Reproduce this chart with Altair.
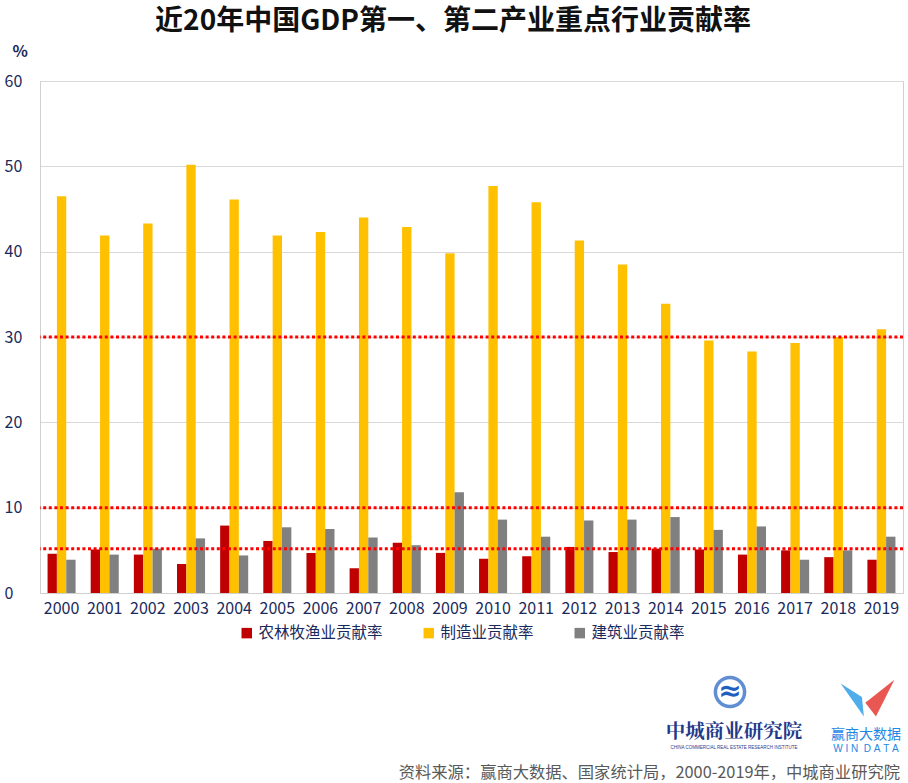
import altair as alt
import pandas as pd

years = [str(y) for y in range(2000, 2020)]
series_names = ["农林牧渔业贡献率", "制造业贡献率", "建筑业贡献率"]
agri = [4.6, 5.1, 4.5, 3.4, 7.9, 6.1, 4.7, 2.9, 5.9, 4.7,
        4.0, 4.3, 5.4, 4.8, 5.2, 5.1, 4.5, 5.0, 4.2, 3.9]
manu = [46.5, 41.9, 43.3, 50.2, 46.1, 41.9, 42.3, 44.0, 42.9, 39.8,
        47.7, 45.8, 41.3, 38.5, 33.9, 29.6, 28.3, 29.3, 30.0, 30.9]
cons = [3.9, 4.5, 5.2, 6.4, 4.4, 7.7, 7.5, 6.5, 5.6, 11.8,
        8.6, 6.6, 8.5, 8.6, 8.9, 7.4, 7.8, 3.9, 5.0, 6.6]
ref_lines = [30, 10, 5.2]
colors = ["#C00000", "#FFC000", "#808080"]

title_text = "近20年中国GDP第一、第二产业重点行业贡献率"
source_text = "资料来源：赢商大数据、国家统计局，2000-2019年，中城商业研究院"

rows = []
for name, vals in zip(series_names, [agri, manu, cons]):
    for y, v in zip(years, vals):
        rows.append({"year": y, "series": name, "value": v})
df = pd.DataFrame(rows)

FONT = "Noto Sans CJK SC"
NAVY = "#1B2A5C"

W, H = 863, 512

bars = alt.Chart(df).mark_bar().encode(
    x=alt.X("year:N", sort=years,
            scale=alt.Scale(paddingInner=0.35, paddingOuter=0.175),
            axis=alt.Axis(title=None, labelAngle=0, labelFontSize=16,
                          labelColor=NAVY, labelFont=FONT, labelPadding=7,
                          tickSize=0, domainColor="#D0D0D0")),
    xOffset=alt.XOffset("series:N", sort=series_names),
    y=alt.Y("value:Q", scale=alt.Scale(domain=[0, 60]),
            axis=alt.Axis(values=[0, 10, 20, 30, 40, 50, 60], title="%",
                          titleAngle=0, titleX=-28, titleY=-22, titleAlign="left",
                          titleFontSize=16, titleFont=FONT, titleColor=NAVY,
                          titleFontWeight="bold",
                          labelFontSize=16, labelColor=NAVY, labelFont=FONT,
                          labelAlign="left", labelPadding=36,
                          tickSize=0, gridColor="#D9D9D9", domainColor="#D0D0D0")),
    color=alt.Color("series:N", sort=series_names,
                    scale=alt.Scale(domain=series_names, range=colors),
                    legend=alt.Legend(title=None, orient="none", direction="horizontal",
                                      legendX=199, legendY=544, symbolType="square",
                                      symbolSize=110, symbolStrokeWidth=0,
                                      labelFontSize=15.5, labelFont=FONT,
                                      labelColor=NAVY, columnPadding=38,
                                      labelOffset=4)),
)

rules = alt.Chart(pd.DataFrame({"v": ref_lines})).mark_rule(
    color="#FF0000", strokeWidth=3, strokeDash=[3, 2.6]
).encode(y="v:Q")

title = alt.Chart(pd.DataFrame({"t": [title_text]})).mark_text(
    font=FONT, fontSize=28, fontWeight="bold", color="#111111", align="center",
    baseline="middle"
).encode(x=alt.value(413), y=alt.value(-59), text="t:N")

source = alt.Chart(pd.DataFrame({"t": [source_text]})).mark_text(
    font=FONT, fontSize=16.3, color="#595959", align="right", baseline="middle"
).encode(x=alt.value(860), y=alt.value(692), text="t:N")

logo1 = alt.Chart(pd.DataFrame({"t": ["中城商业研究院"]})).mark_text(
    font="Noto Serif CJK SC", fontSize=19.5, fontWeight="bold", color="#1F3A8A",
    align="center", baseline="middle"
).encode(x=alt.value(694), y=alt.value(651), text="t:N")

logo1b = alt.Chart(pd.DataFrame({"t": ["CHINA COMMERCIAL REAL ESTATE RESEARCH INSTITUTE"]})).mark_text(
    font="Liberation Sans", fontSize=4.5, color="#1F3A8A", align="center", baseline="middle"
).encode(x=alt.value(694), y=alt.value(667), text="t:N")

ring = alt.Chart(pd.DataFrame({"a": [1]})).mark_point(
    shape="circle", size=850, filled=False, stroke="#1F5FBF", strokeWidth=3.5
).encode(x=alt.value(690), y=alt.value(611))

zlogo = alt.Chart(pd.DataFrame({"a": [1]})).mark_text(
    text="≈", fontSize=28, fontWeight="bold", color="#1F5FBF", font="DejaVu Sans",
    baseline="middle"
).encode(x=alt.value(690), y=alt.value(611))

logo2 = alt.Chart(pd.DataFrame({"t": ["赢商大数据"]})).mark_text(
    font=FONT, fontSize=14, color="#1E88E5", align="center", baseline="middle"
).encode(x=alt.value(826), y=alt.value(654), text="t:N")

logo2b = alt.Chart(pd.DataFrame({"t": ["W\u00a0I\u00a0N\u00a0\u00a0D\u00a0A\u00a0T\u00a0A"]})).mark_text(
    font="Liberation Sans", fontSize=10, color="#1E88E5", align="center", baseline="middle"
).encode(x=alt.value(826), y=alt.value(668), text="t:N")

tri_blue = alt.Chart(pd.DataFrame({"a": [1]})).mark_point(
    shape="M -1 -0.8 L 0.2 0.9 L 0.1 -0.1 Z", size=1500, filled=True,
    fill="#3BA4E8", opacity=0.9, strokeWidth=0
).encode(x=alt.value(820), y=alt.value(618))

tri_red = alt.Chart(pd.DataFrame({"a": [1]})).mark_point(
    shape="M 1 -1 L -0.5 0.2 L 0.05 0.9 Z", size=1500, filled=True,
    fill="#E53935", opacity=0.85, strokeWidth=0
).encode(x=alt.value(835), y=alt.value(618))

chart = alt.layer(bars, rules, title, source, logo1, logo1b, ring, zlogo,
                  logo2, logo2b, tri_blue, tri_red).properties(
    width=W, height=H,
    autosize=alt.AutoSizeParams(type="none"),
    padding={"left": 40, "top": 81, "right": 5, "bottom": 190},
    background="white",
).configure_view(stroke="#D0D0D0", strokeWidth=1)

chart.save("out.html", embed_options={"renderer": "svg", "actions": False})
